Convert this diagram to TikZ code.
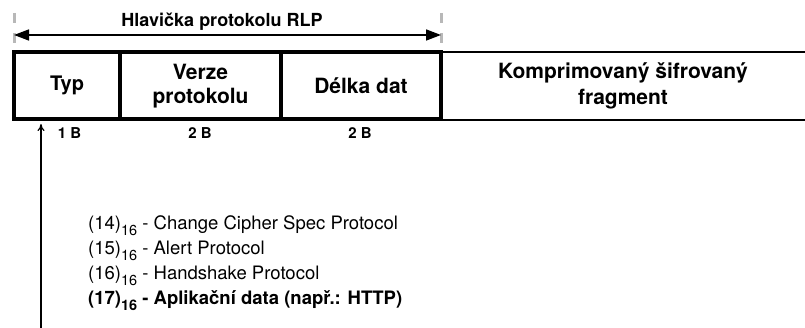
\documentclass[tikz,border=0pt]{standalone}
\usepackage{fontspec}
\setmainfont{TeX Gyre Heros}
\usetikzlibrary{arrows.meta}
% subscript used for the hexadecimal base
\newcommand\hexsub[1]{\raisebox{-0.32em}{\fontsize{14.5}{14.5}\selectfont #1}}
\begin{document}
\begin{tikzpicture}[x=1pt,y=-1pt,
  field/.style={draw, line width=4pt, minimum height=67.5pt, inner sep=0pt,
    align=center, font=\fontsize{21}{24}\selectfont\bfseries},
  fragbox/.style={minimum height=67.5pt, inner sep=0pt, align=center,
    font=\fontsize{21}{26}\selectfont\bfseries},
  thinedge/.style={line width=2pt},
  bytelbl/.style={anchor=base, inner sep=0pt, font=\fontsize{15}{16}\selectfont\bfseries},
  item/.style={anchor=base west, inner sep=0pt, font=\fontsize{18.5}{20}\selectfont},
  guide/.style={draw=black!28, line width=3pt, dash pattern=on 10pt off 10pt},
  span/.style={line width=1.6pt, {Triangle[length=15pt,width=11pt]}-{Triangle[length=15pt,width=11pt]}},
  pointer/.style={line width=1.2pt, -{To[length=7pt,width=7pt]}, shorten >=2.5pt}
]
\useasboundingbox (0,0) rectangle (805,328);

% header fields of the record
\node[field, minimum width=106pt, font=\fontsize{20}{24}\selectfont\bfseries] (typ) at (67,85.75) {Typ};
\node[field, minimum width=161pt] (verze) at (200.5,85.75) {Verze\\protokolu};
\node[field, minimum width=160pt] (delka) at (361,85.75) {Délka dat};

% payload part, open to the right
\node[fragbox, minimum width=364pt] (frag) at (623,85.75) {Komprimovaný šifrovaný\\fragment};
\draw[thinedge] (frag.north west) -- (frag.north east);
\draw[thinedge] (frag.south west) -- (frag.south east);

% header span
\coordinate (gl) at (14,13);
\coordinate (gr) at (441,13);
\draw[guide] (gl) -- ++(0,33);
\draw[guide] (gr) -- ++(0,33);
\coordinate (hl) at (14,35);
\coordinate (hr) at (441,35);
\draw[span] (hl) -- (hr);
\node[anchor=base, inner sep=0pt, font=\fontsize{18}{20}\selectfont\bfseries] (title) at (222,27) {Hlavička protokolu RLP};

% field sizes
\node[bytelbl] (b1) at (69.5,139) {1 B};
\node[bytelbl] (b2) at (200,139) {2 B};
\node[bytelbl] (b3) at (360,139) {2 B};

% pointer to the type field
\coordinate (pbot) at (41,328);
\draw[pointer] (pbot) -- (pbot |- typ.south);

% values of the type field
\node[item] (l1) at (88,230) {(14)\hexsub{16} - Change Cipher Spec Protocol};
\node[item] (l2) at (88,255) {(15)\hexsub{16} - Alert Protocol};
\node[item] (l3) at (88,280) {(16)\hexsub{16} - Handshake Protocol};
\node[item, font=\fontsize{18.5}{20}\selectfont\bfseries] (l4) at (88,305) {(17)\hexsub{16} - Aplikační data (např.: HTTP)};
\end{tikzpicture}
\end{document}
